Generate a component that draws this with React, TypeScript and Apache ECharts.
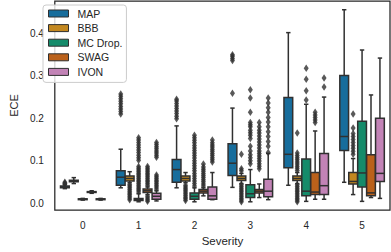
import React, { useEffect, useRef } from 'react';
import * as echarts from 'echarts';

const categories = ['0', '1', '2', '3', '4', '5'];
const methods = ['MAP', 'BBB', 'MC Drop.', 'SWAG', 'IVON'];

// box statistics per severity: [whisker low, q1, median, q3, whisker high]
const mapStats = [
  [0.034, 0.036, 0.038, 0.040, 0.043],
  [0.036, 0.042, 0.061, 0.076, 0.127],
  [0.036, 0.049, 0.079, 0.103, 0.182],
  [0.037, 0.065, 0.094, 0.140, 0.224],
  [0.042, 0.083, 0.115, 0.249, 0.402],
  [0.049, 0.124, 0.157, 0.301, 0.456],
];
const bbbStats = [
  [0.046, 0.050, 0.052, 0.054, 0.060],
  [0.048, 0.052, 0.058, 0.064, 0.074],
  [0.048, 0.052, 0.058, 0.064, 0.072],
  [0.046, 0.053, 0.058, 0.064, 0.070],
  [0.046, 0.053, 0.058, 0.064, 0.072],
  [0.020, 0.045, 0.051, 0.072, 0.105],
];
const mcStats = [
  [0.007, 0.008, 0.009, 0.010, 0.011],
  [0.003, 0.006, 0.008, 0.011, 0.022],
  [0.003, 0.009, 0.016, 0.024, 0.036],
  [0.003, 0.013, 0.022, 0.043, 0.079],
  [0.004, 0.017, 0.028, 0.104, 0.233],
  [0.004, 0.038, 0.071, 0.193, 0.361],
];
const swagStats = [
  [0.023, 0.025, 0.026, 0.027, 0.029],
  [0.020, 0.025, 0.029, 0.033, 0.038],
  [0.017, 0.024, 0.028, 0.032, 0.036],
  [0.013, 0.024, 0.028, 0.032, 0.045],
  [0.009, 0.020, 0.026, 0.072, 0.170],
  [0.013, 0.017, 0.024, 0.114, 0.255],
];
const ivonStats = [
  [0.007, 0.008, 0.009, 0.010, 0.011],
  [0.005, 0.009, 0.016, 0.023, 0.029],
  [0.008, 0.009, 0.017, 0.038, 0.072],
  [0.008, 0.015, 0.028, 0.056, 0.117],
  [0.009, 0.020, 0.041, 0.117, 0.250],
  [0.011, 0.051, 0.070, 0.200, 0.342],
];

// outliers per severity
const mapFliers = [
  [0.045, 0.047, 0.049],
  [0.21, 0.216, 0.222, 0.228, 0.234, 0.24, 0.246, 0.252, 0.257],
  [0.199, 0.205, 0.211, 0.217, 0.223, 0.229, 0.235, 0.241, 0.245],
  [0.259, 0.336, 0.341, 0.346, 0.35],
  [],
  [],
];
const bbbFliers = [
  [],
  [0.008, 0.012, 0.016, 0.02, 0.024, 0.028, 0.032, 0.036, 0.04, 0.044],
  [0.006, 0.01, 0.014, 0.018, 0.022, 0.026, 0.03, 0.034, 0.038, 0.042],
  [0.003, 0.007, 0.011, 0.015, 0.019, 0.023, 0.027, 0.031, 0.035, 0.039, 0.043, 0.076, 0.081, 0.115],
  [0.003, 0.007, 0.011, 0.015, 0.019, 0.023, 0.027, 0.031, 0.035, 0.039, 0.043, 0.077, 0.082, 0.087, 0.092, 0.097, 0.102, 0.107, 0.112, 0.118, 0.165],
  [0.115, 0.122, 0.129, 0.136, 0.143, 0.15, 0.157, 0.164, 0.177, 0.21],
];
const mcFliers = [
  [],
  [0.026, 0.03, 0.034, 0.038, 0.042, 0.046, 0.05, 0.054, 0.058, 0.062, 0.066, 0.07, 0.074, 0.078, 0.082, 0.086, 0.101, 0.107, 0.113, 0.119, 0.125, 0.131, 0.137, 0.143, 0.149, 0.154],
  [0.04, 0.046, 0.052, 0.058, 0.064, 0.07, 0.076, 0.082, 0.088, 0.094, 0.1, 0.106, 0.112, 0.118, 0.124, 0.13, 0.136, 0.142, 0.148, 0.154, 0.16],
  [0.093, 0.1, 0.107, 0.114, 0.123, 0.134, 0.152, 0.16, 0.166, 0.172, 0.18, 0.185, 0.19, 0.214, 0.248, 0.267],
  [0.243, 0.265, 0.292, 0.318],
  [],
];
const swagFliers = [
  [],
  [0.004, 0.008, 0.012, 0.016, 0.042, 0.046, 0.05, 0.054, 0.058, 0.062, 0.066, 0.07, 0.074, 0.078, 0.082, 0.086],
  [0.04, 0.045, 0.05, 0.055, 0.06, 0.065, 0.07, 0.075, 0.08, 0.085, 0.092],
  [0.081, 0.087, 0.093, 0.099, 0.105, 0.111, 0.117, 0.123, 0.13, 0.137, 0.144, 0.151, 0.158, 0.165, 0.172, 0.18, 0.19],
  [0.19, 0.196, 0.202, 0.208, 0.214],
  [],
];
const ivonFliers = [
  [],
  [0.033, 0.038, 0.042, 0.046, 0.05, 0.054, 0.058, 0.062, 0.066, 0.108, 0.113, 0.118, 0.123, 0.128, 0.133, 0.138, 0.143],
  [0.097, 0.102, 0.107, 0.112, 0.117, 0.122, 0.127, 0.132, 0.137, 0.142, 0.149],
  [0.119, 0.134, 0.145, 0.157, 0.168, 0.18, 0.191, 0.202, 0.214, 0.225, 0.236, 0.248],
  [0.274, 0.295],
  [],
];

const statsByMethod = [mapStats, bbbStats, mcStats, swagStats, ivonStats];
const fliersByMethod = [mapFliers, bbbFliers, mcFliers, swagFliers, ivonFliers];

const colors = ['#176d9c', '#c38820', '#158b6a', '#ba611b', '#c283b6'];
const gray = '#303030';
const ink = '#262626';
const font = '"Liberation Sans", Arial, Helvetica, sans-serif';

const GROUP_WIDTH = 0.8;
const EACH = GROUP_WIDTH / methods.length;
const BOX_W = EACH * 0.98;
const offsetOf = (j: number) => (j - (methods.length - 1) / 2) * EACH;

export default function App() {
  const ref = useRef<HTMLDivElement>(null);
  useEffect(() => {
    document.body.style.margin = '0';
    const chart = echarts.init(ref.current as HTMLDivElement, null, { renderer: 'svg' });
    const series: any[] = [];
    methods.forEach((m, j) => {
      series.push({
        type: 'custom',
        name: m,
        xAxisIndex: 1,
        yAxisIndex: 0,
        itemStyle: { color: colors[j] },
        encode: { x: 0, y: [1, 2, 3, 4, 5] },
        data: statsByMethod[j].map((s, i) => [i + offsetOf(j), ...s]),
        z: 2,
        renderItem: (params: any, api: any) => {
          const x = api.value(0);
          const pts = [1, 2, 3, 4, 5].map((k) => api.coord([x, api.value(k)]));
          const cx = pts[0][0];
          const hw = api.size([BOX_W, 0])[0] / 2;
          const chw = hw / 2;
          const [yMin, yQ1, yMed, yQ3, yMax] = pts.map((p: number[]) => p[1]);
          const ls = { stroke: gray, lineWidth: 1.5 };
          return {
            type: 'group',
            children: [
              { type: 'line', shape: { x1: cx, y1: yQ3, x2: cx, y2: yMax }, style: ls },
              { type: 'line', shape: { x1: cx, y1: yQ1, x2: cx, y2: yMin }, style: ls },
              { type: 'line', shape: { x1: cx - chw, y1: yMax, x2: cx + chw, y2: yMax }, style: ls },
              { type: 'line', shape: { x1: cx - chw, y1: yMin, x2: cx + chw, y2: yMin }, style: ls },
              {
                type: 'rect',
                shape: { x: cx - hw, y: yQ3, width: 2 * hw, height: yQ1 - yQ3 },
                style: { fill: colors[j], stroke: gray, lineWidth: 1.5 },
              },
              { type: 'line', shape: { x1: cx - hw, y1: yMed, x2: cx + hw, y2: yMed }, style: ls },
            ],
          };
        },
      });
    });
    methods.forEach((m, j) => {
      series.push({
        type: 'scatter',
        name: m + ' outliers',
        xAxisIndex: 1,
        yAxisIndex: 0,
        symbol: 'diamond',
        symbolSize: [5, 7.5],
        itemStyle: { color: gray },
        z: 3,
        silent: true,
        data: fliersByMethod[j].flatMap((vals, i) => vals.map((v) => [i + offsetOf(j), v])),
      });
    });

    chart.setOption({
      animation: false,
      textStyle: { fontFamily: font },
      grid: {
        left: 38,
        right: 1,
        top: 1,
        bottom: 34,
        show: true,
        borderColor: ink,
        borderWidth: 1.25,
        backgroundColor: 'transparent',
      },
      legend: {
        orient: 'vertical',
        left: 43,
        top: 5,
        padding: [3, 4, 5, 5],
        itemWidth: 20,
        itemHeight: 7,
        itemGap: 3.6,
        backgroundColor: 'rgba(255,255,255,0.8)',
        borderColor: '#cccccc',
        borderWidth: 1,
        borderRadius: 3,
        textStyle: { fontFamily: font, fontSize: 10.5, color: ink, lineHeight: 11, padding: [0, 0, 0, 4] },
        data: methods.map((m, j) => ({
          name: m,
          icon: 'rect',
          itemStyle: { color: colors[j], borderColor: gray, borderWidth: 1 },
        })),
      },
      xAxis: [
        {
          type: 'category',
          data: categories,
          boundaryGap: true,
          axisLine: { show: false },
          axisTick: { show: false },
          axisLabel: { fontFamily: font, fontSize: 10, color: ink, margin: 10 },
          name: 'Severity',
          nameLocation: 'middle',
          nameGap: 23,
          nameTextStyle: { fontFamily: font, fontSize: 11.5, color: ink },
          splitLine: { show: false },
        },
        {
          type: 'value',
          min: -0.5,
          max: 5.5,
          show: false,
          splitLine: { show: false },
        },
      ],
      yAxis: {
        type: 'value',
        min: -0.0166,
        max: 0.4766,
        splitNumber: 5,
        axisLine: { show: false },
        axisTick: { show: false },
        splitLine: { show: false },
        axisLabel: {
          fontFamily: font,
          fontSize: 10,
          color: ink,
          margin: 11,
          showMinLabel: false,
          showMaxLabel: false,
          formatter: (v: number) => {
            const r = Math.round(v * 10);
            return Math.abs(v * 10 - r) < 1e-6 ? (r / 10).toFixed(1) : '';
          },
        },
        name: 'ECE',
        nameLocation: 'middle',
        nameRotate: 90,
        nameGap: 31,
        nameTextStyle: { fontFamily: font, fontSize: 11, color: ink },
      },
      series,
    });
    return () => chart.dispose();
  }, []);
  return <div ref={ref} style={{ width: 391, height: 252 }} />;
}
